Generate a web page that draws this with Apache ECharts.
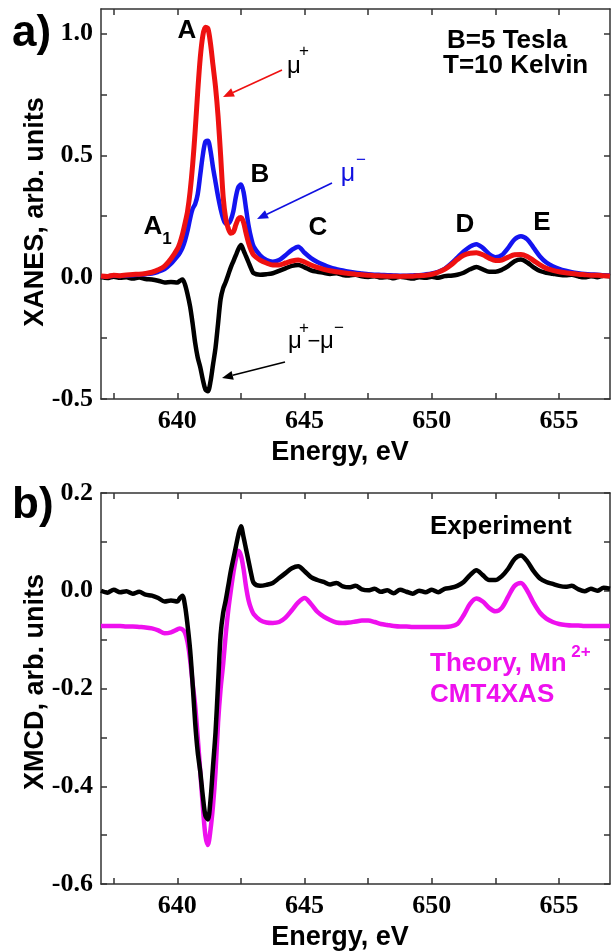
<!DOCTYPE html>
<html>
<head>
<meta charset="utf-8">
<script src="https://cdn.jsdelivr.net/npm/echarts@6/dist/echarts.min.js"></script>
<style>
html,body{margin:0;padding:0;background:#fff;}
#chart{width:611px;height:951px;}
</style>
</head>
<body>
<div id="chart"></div>
<script>
// Energy grid (eV)
const energy = [
  637.0,637.25,637.5,637.75,638.0,638.25,638.5,638.75,639.0,639.25,639.5,639.75,
  640.0,640.1,640.2,640.3,640.4,640.5,640.6,640.7,640.8,640.9,
  641.0,641.1,641.2,641.3,641.4,641.5,641.6,641.7,641.8,641.9,
  642.0,642.1,642.2,642.3,642.4,642.5,642.6,642.7,642.8,642.9,643.0,
  643.25,643.5,643.75,644.0,644.25,644.5,644.75,645.0,645.25,645.5,645.75,
  646.0,646.25,646.5,646.75,647.0,647.25,647.5,647.75,648.0,648.25,648.5,648.75,
  649.0,649.25,649.5,649.75,650.0,650.25,650.5,650.75,651.0,651.25,651.5,651.75,
  652.0,652.25,652.5,652.75,653.0,653.25,653.5,653.75,654.0,654.25,654.5,654.75,
  655.0,655.25,655.5,655.75,656.0,656.25,656.5,656.75,657.0
];
// mu+ (red)
const muPlus = [
  0.005,0.003,0.008,0.006,0.009,0.011,0.012,0.015,0.02,0.03,0.045,0.075,
  0.115,0.14,0.175,0.22,0.27,0.35,0.46,0.6,0.76,0.9,
  0.99,1.025,1.02,0.96,0.87,0.78,0.66,0.5,0.33,0.24,
  0.2,0.18,0.185,0.215,0.24,0.245,0.225,0.18,0.14,0.11,0.09,
  0.07,0.058,0.05,0.05,0.058,0.066,0.07,0.062,0.05,0.04,0.032,
  0.026,0.022,0.018,0.015,0.012,0.01,0.008,0.006,0.005,0.004,0.004,0.003,
  0.004,0.004,0.006,0.008,0.012,0.02,0.032,0.05,0.072,0.09,0.098,0.1,
  0.092,0.078,0.068,0.07,0.082,0.092,0.093,0.085,0.068,0.05,0.036,0.028,
  0.022,0.018,0.015,0.012,0.01,0.008,0.008,0.006,0.005
];
// mu- (blue)
const muMinus = [
  0.004,0.004,0.006,0.005,0.007,0.008,0.01,0.012,0.015,0.022,0.033,0.055,
  0.085,0.1,0.12,0.15,0.19,0.24,0.28,0.3,0.34,0.42,
  0.5,0.555,0.56,0.52,0.45,0.39,0.33,0.28,0.24,0.22,
  0.22,0.235,0.27,0.33,0.37,0.38,0.35,0.28,0.21,0.16,0.125,
  0.09,0.07,0.063,0.07,0.09,0.112,0.125,0.1,0.078,0.062,0.05,
  0.04,0.033,0.027,0.022,0.018,0.015,0.012,0.01,0.009,0.008,0.007,0.006,
  0.006,0.007,0.008,0.011,0.015,0.022,0.034,0.055,0.08,0.105,0.125,0.135,
  0.12,0.095,0.082,0.09,0.12,0.155,0.168,0.155,0.12,0.085,0.06,0.045,
  0.034,0.026,0.02,0.016,0.013,0.011,0.01,0.008,0.007
];
// mu+ - mu- (experiment, black)
const xmcdExp = [
  0.0,-0.004,0.002,-0.003,-0.001,-0.006,-0.002,-0.008,-0.01,-0.015,-0.022,-0.02,
  -0.022,-0.015,-0.01,-0.03,-0.07,-0.12,-0.19,-0.27,-0.33,-0.37,
  -0.42,-0.46,-0.468,-0.43,-0.36,-0.29,-0.19,-0.09,-0.045,-0.02,
  0.01,0.04,0.065,0.09,0.115,0.132,0.11,0.085,0.06,0.035,0.016,
  0.01,0.012,0.016,0.026,0.036,0.046,0.05,0.04,0.028,0.022,0.018,
  0.013,0.016,0.009,0.007,0.01,0.003,0.001,0.004,-0.002,0.001,-0.005,0.002,
  -0.002,-0.006,0.0,-0.003,0.002,-0.003,0.004,0.006,0.01,0.018,0.032,0.042,
  0.032,0.022,0.022,0.03,0.045,0.065,0.072,0.06,0.04,0.025,0.018,0.014,
  0.01,0.008,0.01,0.003,-0.001,0.004,0.0,0.006,0.004
];
// Theory Mn2+ CMT4XAS (magenta)
const xmcdTheory = [
  -0.072,-0.072,-0.072,-0.072,-0.073,-0.073,-0.074,-0.075,-0.077,-0.081,-0.087,-0.085,
  -0.079,-0.077,-0.079,-0.086,-0.105,-0.14,-0.19,-0.235,-0.3,-0.37,
  -0.44,-0.5,-0.52,-0.49,-0.44,-0.37,-0.27,-0.2,-0.15,-0.09,
  -0.04,0.0,0.036,0.065,0.082,0.072,0.045,0.008,-0.02,-0.037,-0.048,
  -0.06,-0.065,-0.066,-0.064,-0.055,-0.04,-0.024,-0.015,-0.027,-0.043,-0.053,
  -0.06,-0.065,-0.066,-0.065,-0.063,-0.061,-0.061,-0.064,-0.068,-0.07,-0.072,-0.073,
  -0.073,-0.074,-0.074,-0.074,-0.074,-0.074,-0.074,-0.073,-0.068,-0.05,-0.027,-0.016,
  -0.022,-0.035,-0.042,-0.035,-0.012,0.01,0.016,0.0,-0.025,-0.045,-0.057,-0.064,
  -0.068,-0.07,-0.071,-0.071,-0.072,-0.072,-0.072,-0.072,-0.072
];
const xTicks = [637.5,640,642.5,645,647.5,650,652.5,655];
const xLabels = [640,645,650,655];
const yTicksA = [-0.5,-0.25,0,0.25,0.5,0.75,1.0];
const yLabelsA = [-0.5,0,0.5,1.0];
const yTicksB = [-0.6,-0.5,-0.4,-0.3,-0.2,-0.1,0,0.1,0.2];
const yLabelsB = [-0.6,-0.4,-0.2,0,0.2];

function pairs(xs, ys){ return xs.map((x,i)=>[x, ys[i]]); }

const chart = echarts.init(document.getElementById('chart'), null, {renderer:'canvas'});
const axisCol = '#333';
const tickFont = {fontFamily:'Liberation Serif', fontWeight:'bold', fontSize:26, color:'#000'};

function xAx(grid, pos, labels){
  return {gridIndex:grid, type:'value', min:637, max:657, position:pos,
    axisLine:{show:true, onZero:false, lineStyle:{color:axisCol, width:1.5}},
    axisTick:{show:true, inside:true, length:6, customValues:xTicks, lineStyle:{color:axisCol, width:1.5}},
    axisLabel:Object.assign({show:labels, customValues:xLabels, margin:9}, tickFont),
    splitLine:{show:false}};
}
function yAx(grid, pos, min, max, ticks, labs, labels){
  return {gridIndex:grid, type:'value', min:min, max:max, position:pos,
    axisLine:{show:true, onZero:false, lineStyle:{color:axisCol, width:1.5}},
    axisTick:{show:true, inside:true, length:6, customValues:ticks, lineStyle:{color:axisCol, width:1.5}},
    axisLabel:Object.assign({show:labels, customValues:labs, margin:8, formatter:v=>v.toFixed(1)}, tickFont),
    splitLine:{show:false}};
}

function txt(t, x, y, size, color, align, weight, family, rot){
  return {type:'text', x:x, y:y, rotation:rot||0, z:100,
    style:{text:t, fill:color, fontSize:size, fontWeight:weight||'bold',
      fontFamily:family||'Liberation Sans', textAlign:align||'left', align:align||'left',
      textVerticalAlign:'middle', verticalAlign:'middle'}};
}
function arrow(x1,y1,x2,y2,color){
  const ang = Math.atan2(y2-y1, x2-x1);
  const L = 11, W = 4.5;
  const bx = x2 - L*Math.cos(ang), by = y2 - L*Math.sin(ang);
  const px = -Math.sin(ang)*W, py = Math.cos(ang)*W;
  return [
    {type:'line', z:100, shape:{x1:x1,y1:y1,x2:bx,y2:by}, style:{stroke:color, lineWidth:1.6}},
    {type:'polygon', z:100, shape:{points:[[x2,y2],[bx+px,by+py],[bx-px,by-py]]}, style:{fill:color}}
  ];
}

const graphics = [].concat(
  [txt('a)', 12, 34, 44, '#000'),
   txt('b)', 12, 506, 44, '#000'),
   txt('A', 187, 31, 26, '#000', 'center'),
   txt('B', 260, 175, 26, '#000', 'center'),
   txt('A', 153, 227, 26, '#000', 'center'),
   txt('1', 167, 239, 17, '#000', 'center'),
   txt('C', 318, 228, 26, '#000', 'center'),
   txt('D', 465, 225, 26, '#000', 'center'),
   txt('E', 542, 223, 26, '#000', 'center'),
   txt('B=5 Tesla', 447, 41, 26, '#000'),
   txt('T=10 Kelvin', 443, 66, 26, '#000'),
   txt('μ', 294, 66, 24, '#000', 'center', 'normal'),
   txt('+', 304, 51, 17, '#000', 'center', 'normal'),
   txt('μ', 348, 174, 25, '#1010e0', 'center', 'normal'),
   txt('−', 361, 160, 17, '#1010e0', 'center', 'normal'),
   txt('μ', 295, 341, 24, '#000', 'center', 'normal'),
   txt('+', 304, 328, 17, '#000', 'center', 'normal'),
   txt('−', 314, 342, 22, '#000', 'center', 'normal'),
   txt('μ', 327, 341, 24, '#000', 'center', 'normal'),
   txt('−', 339, 328, 17, '#000', 'center', 'normal'),
   txt('Experiment', 430, 527, 26, '#000'),
   txt('Theory, Mn', 430, 664, 26, '#ee10ee'),
   txt('2+', 581, 652, 17, '#ee10ee', 'center'),
   txt('CMT4XAS', 430, 695, 26, '#ee10ee'),
   txt('XANES, arb. units', 36, 212, 27, '#000', 'center', 'bold', 'Liberation Sans', Math.PI/2),
   txt('XMCD, arb. units', 36, 682, 27, '#000', 'center', 'bold', 'Liberation Sans', Math.PI/2),
   txt('Energy, eV', 340, 453, 27, '#000', 'center'),
   txt('Energy, eV', 340, 938, 27, '#000', 'center')
  ],
  arrow(282, 70, 223, 97, '#ee1111'),
  arrow(332, 183, 257, 219, '#1010e0'),
  arrow(285, 362, 222, 378, '#000')
);

const lineBase = {type:'line', showSymbol:false, smooth:0.3};
const option = {
  backgroundColor:'#fff',
  animation:false,
  grid:[
    {left:101, top:9, width:509, height:390},
    {left:101, top:493, width:509, height:391}
  ],
  xAxis:[ xAx(0,'bottom',true), xAx(0,'top',false), xAx(1,'bottom',true), xAx(1,'top',false) ],
  yAxis:[
    yAx(0,'left',-0.5,1.1,yTicksA,yLabelsA,true), yAx(0,'right',-0.5,1.1,yTicksA,yLabelsA,false),
    yAx(1,'left',-0.6,0.2,yTicksB,yLabelsB,true), yAx(1,'right',-0.6,0.2,yTicksB,yLabelsB,false)
  ],
  series:[
    Object.assign({name:'mu+ - mu-', xAxisIndex:0, yAxisIndex:0, data:pairs(energy, xmcdExp), lineStyle:{color:'#000', width:4.5}, z:2}, lineBase),
    Object.assign({name:'mu-', xAxisIndex:0, yAxisIndex:0, data:pairs(energy, muMinus), lineStyle:{color:'#1414f0', width:4.5}, z:3}, lineBase),
    Object.assign({name:'mu+', xAxisIndex:0, yAxisIndex:0, data:pairs(energy, muPlus), lineStyle:{color:'#ee1111', width:5}, z:4}, lineBase),
    Object.assign({name:'Theory', xAxisIndex:2, yAxisIndex:2, data:pairs(energy, xmcdTheory), lineStyle:{color:'#ee10ee', width:4.5}, z:2}, lineBase),
    Object.assign({name:'Experiment', xAxisIndex:2, yAxisIndex:2, data:pairs(energy, xmcdExp), lineStyle:{color:'#000', width:4.5}, z:3}, lineBase)
  ],
  graphic:graphics
};
chart.setOption(option);
</script>
</body>
</html>
